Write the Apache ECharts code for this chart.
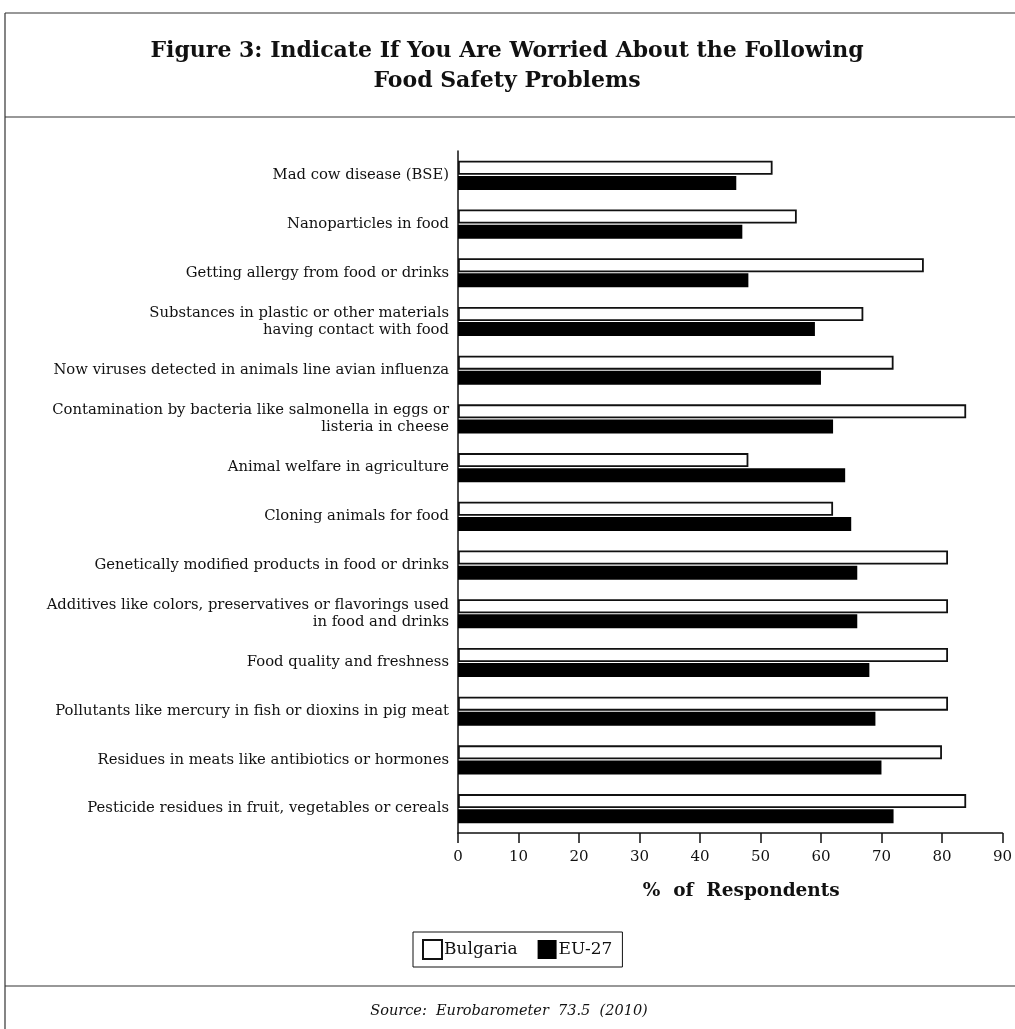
<!DOCTYPE html>
<html>
<head>
<meta charset="utf-8">
<script src="https://cdn.jsdelivr.net/npm/echarts@6/dist/echarts.min.js"></script>
<style>
  html, body { margin: 0; padding: 0; background: #fff; }
  #chart { width: 1015px; height: 1029px; }
</style>
</head>
<body>
<div id="chart"></div>
<script>
// Food safety concerns, % of respondents
const categories = [
  'Mad cow disease (BSE)',
  'Nanoparticles in food',
  'Getting allergy from food or drinks',
  'Substances in plastic or other materials\nhaving contact with food',
  'Now viruses detected in animals line avian influenza',
  'Contamination by bacteria like salmonella in eggs or\nlisteria in cheese',
  'Animal welfare in agriculture',
  'Cloning animals for food',
  'Genetically modified products in food or drinks',
  'Additives like colors, preservatives or flavorings used\nin food and drinks',
  'Food quality and freshness',
  'Pollutants like mercury in fish or dioxins in pig meat',
  'Residues in meats like antibiotics or hormones',
  'Pesticide residues in fruit, vegetables or cereals'
];
const bulgaria = [52, 56, 77, 67, 72, 84, 48, 62, 81, 81, 81, 81, 80, 84];
const eu27 = [46, 47, 48, 59, 60, 62, 64, 65, 66, 66, 68, 69, 70, 72];
const xTicks = [0, 10, 20, 30, 40, 50, 60, 70, 80, 90];

const serif = '"DejaVu Serif", "Liberation Serif", serif';
const chart = echarts.init(document.getElementById('chart'));

chart.setOption({
  backgroundColor: '#fff',
  animation: false,
  graphic: [
    // frame and panel separators
    { type: 'line', shape: { x1: 5, y1: 13, x2: 1015, y2: 13 }, style: { stroke: '#333', lineWidth: 1.2 } },
    { type: 'line', shape: { x1: 5, y1: 13, x2: 5, y2: 1029 }, style: { stroke: '#333', lineWidth: 1.2 } },
    { type: 'line', shape: { x1: 5, y1: 117, x2: 1015, y2: 117 }, style: { stroke: '#333', lineWidth: 1.2 } },
    { type: 'line', shape: { x1: 5, y1: 986, x2: 1015, y2: 986 }, style: { stroke: '#333', lineWidth: 1.2 } },
    {
      type: 'text', x: 507, y: 66,
      style: {
        text: 'Figure 3: Indicate If You Are Worried About the Following\nFood Safety Problems',
        align: 'center', verticalAlign: 'middle',
        font: 'bold 22px ' + serif, lineHeight: 30, fill: '#111'
      }
    },
    {
      type: 'text', x: 509, y: 1011,
      style: {
        text: 'Source:  Eurobarometer  73.5  (2010)',
        align: 'center', verticalAlign: 'middle',
        font: 'italic 14.5px ' + serif, fill: '#111'
      }
    }
  ],
  legend: {
    data: ['Bulgaria', 'EU-27'],
    left: 413,
    top: 932,
    orient: 'horizontal',
    icon: 'rect',
    itemWidth: 19,
    itemHeight: 19,
    itemGap: 20,
    padding: [7, 10, 7, 9],
    borderColor: '#111',
    borderWidth: 1,
    textStyle: { fontFamily: serif, fontSize: 17, color: '#111', padding: [0, 0, 0, -3] }
  },
  grid: { left: 458, right: 10, top: 151, bottom: 196, containLabel: false },
  xAxis: {
    type: 'value',
    min: 0,
    max: 90,
    interval: 10,
    name: '%  of  Respondents',
    nameLocation: 'middle',
    nameGap: 49,
    nameTextStyle: { fontFamily: serif, fontWeight: 'bold', fontSize: 18.5, color: '#111', padding: [0, 0, 0, 22] },
    axisLine: { show: true, lineStyle: { color: '#111', width: 1.5 } },
    axisTick: { show: true, length: 10, lineStyle: { color: '#111', width: 1.5 } },
    axisLabel: {
      fontFamily: serif, fontSize: 15, color: '#111', margin: 17,
      formatter: (v) => xTicks.includes(v) ? String(v) : ''
    },
    splitLine: { show: false }
  },
  yAxis: {
    type: 'category',
    data: categories,
    inverse: true,
    axisLine: { show: true, lineStyle: { color: '#111', width: 1.5 } },
    axisTick: { show: false },
    axisLabel: { fontFamily: serif, fontSize: 14.8, color: '#111', margin: 9, lineHeight: 17 }
  },
  series: [{
    name: 'Bulgaria',
    type: 'bar',
    data: bulgaria,
    barWidth: 14,
    barGap: '8%',
    itemStyle: { color: '#fff', borderColor: '#111', borderWidth: 1.8 }
  }, {
    name: 'EU-27',
    type: 'bar',
    data: eu27,
    barWidth: 14,
    itemStyle: { color: '#000', borderColor: '#000', borderWidth: 0 }
  }]
});
</script>
</body>
</html>
